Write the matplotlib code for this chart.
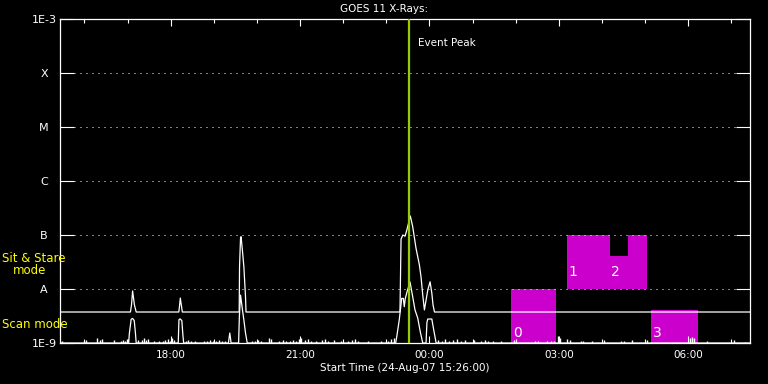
from datetime import datetime, timedelta

import matplotlib
matplotlib.use("Agg")
from matplotlib import pyplot as plt
import matplotlib.dates as mdates
from matplotlib.patches import Rectangle
from matplotlib.ticker import NullLocator

START = datetime(2007, 8, 24, 15, 26)
SPAN_MINUTES = 960

# GOES long channel, minutes after start and flux (W/m^2)
long_minutes = [0, 98, 99.5, 101, 103.5, 106,
                165.3, 166.4, 167.4, 168.8, 170.2,
                249.3, 249.8, 251.2, 251.9, 253.5, 255.8, 258.1, 258.8,
                473, 474.5, 477, 480, 482.3, 487.4, 490.7, 495.3, 500, 502.3,
                504.7, 507, 511.7, 514.9, 517.3, 519, 521, 960]
long_flux = [3.75e-9, 3.75e-9, 5.1e-9, 9.2e-9, 5.1e-9, 3.75e-9,
             3.75e-9, 5.0e-9, 6.8e-9, 5.0e-9, 3.75e-9,
             3.75e-9, 2.6e-8, 9.0e-8, 9.3e-8, 5.7e-8, 2.6e-8, 7.2e-9, 3.75e-9,
             3.75e-9, 8.4e-8, 1.0e-7, 9.5e-8, 1.2e-7, 2.25e-7, 1.43e-7, 5.7e-8, 2.8e-8, 1.67e-8,
             7.7e-9, 4.1e-9, 9.6e-9, 1.36e-8, 8.4e-9, 5.06e-9, 3.75e-9, 3.75e-9]

# GOES short channel
short_minutes = [0, 95.5, 96.5, 99, 101, 103.3, 105, 106,
                 164.5, 165.5, 167, 169.5, 171, 172,
                 234.4, 235.1, 236.2, 237.3, 238,
                 248.5, 249.5, 251.2, 253.5, 255.8, 258.1, 260.5,
                 467, 468.5, 472, 475.4, 477.6, 479, 480.4, 483, 487, 490.7, 493.9,
                 497.7, 501.3, 504.7, 509.3, 510.5, 511.7, 517.3, 520, 523.3, 960]
short_flux = [1e-9, 1e-9, 1.5e-9, 2.75e-9, 2.85e-9, 2.6e-9, 1.5e-9, 1e-9,
              1e-9, 2.7e-9, 2.8e-9, 2.6e-9, 1.4e-9, 1e-9,
              1e-9, 1.2e-9, 1.53e-9, 1.2e-9, 1e-9,
              1e-9, 3e-9, 7.7e-9, 4.45e-9, 2.67e-9, 1.53e-9, 1e-9,
              1e-9, 1.3e-9, 2.67e-9, 6.7e-9, 6.7e-9, 4.7e-9, 6.7e-9, 9e-9, 1.35e-8, 7.2e-9, 4.1e-9,
              2.9e-9, 1.6e-9, 1e-9, 1e-9, 2.4e-9, 2.78e-9, 2.78e-9, 1.74e-9, 1e-9, 1e-9]

# small background blips of the short channel
noise_minutes = [2.4, 33.5, 35.6, 50.9, 55.8, 57.9, 75.3, 85.1, 87.9, 90.7, 93.5,
                 107.9, 114.4, 117.2, 120, 122.1, 131.2, 138.1, 143.7, 146.5, 150.7,
                 153.5, 156.3, 159.1, 175.8, 178.6, 182.8, 188.4, 200.9, 205.1, 209.3,
                 213.5, 217.7, 221.9, 226, 230.2, 266.5, 270.7, 274.9, 279.1, 290.2,
                 293, 304.2, 309.8, 313.9, 319.5, 323.7, 327.9, 332.1, 334.9, 340.5,
                 344.6, 348.8, 355.8, 364.2, 368.4, 372.5, 380.9, 390.7, 400.5, 406,
                 410.2, 414.4, 428.4, 446.5, 456.3, 460.5, 464.6, 526, 531.6, 535.8,
                 541.4, 547, 552.6, 558.1, 563.7, 576.3, 586, 591.6, 595.8, 602.8,
                 613.9, 632.1, 661.4, 665.6, 678.1, 683.7, 687.9, 693.5, 696.3, 706,
                 710.2, 724.2, 728.3, 739.5, 756.3, 780, 784.2, 795.3, 816.3, 876.3,
                 879, 881.8, 900, 937.6, 953]
noise_flux = [1.09e-9, 1.09e-9, 1.14e-9, 1.24e-9, 1.14e-9, 1.19e-9, 1.14e-9, 1.09e-9, 1.14e-9, 1.09e-9, 1.19e-9,
              1.14e-9, 1.14e-9, 1.24e-9, 1.14e-9, 1.19e-9, 1.09e-9, 1.09e-9, 1.09e-9, 1.14e-9, 1.19e-9,
              1.09e-9, 1.24e-9, 1.14e-9, 1.09e-9, 1.14e-9, 1.09e-9, 1.09e-9, 1.09e-9, 1.09e-9, 1.14e-9,
              1.09e-9, 1.09e-9, 1.14e-9, 1.09e-9, 1.09e-9, 1.09e-9, 1.09e-9, 1.14e-9, 1.09e-9, 1.24e-9,
              1.19e-9, 1.09e-9, 1.14e-9, 1.09e-9, 1.09e-9, 1.14e-9, 1.09e-9, 1.19e-9, 1.24e-9, 1.14e-9,
              1.19e-9, 1.09e-9, 1.09e-9, 1.14e-9, 1.19e-9, 1.09e-9, 1.14e-9, 1.09e-9, 1.09e-9, 1.14e-9,
              1.19e-9, 1.09e-9, 1.09e-9, 1.09e-9, 1.09e-9, 1.19e-9, 1.24e-9, 1.14e-9, 1.09e-9, 1.19e-9,
              1.09e-9, 1.14e-9, 1.19e-9, 1.09e-9, 1.14e-9, 1.14e-9, 1.09e-9, 1.14e-9, 1.09e-9, 1.09e-9,
              1.09e-9, 1.14e-9, 1.09e-9, 1.09e-9, 1.09e-9, 1.09e-9, 1.09e-9, 1.35e-9, 1.24e-9, 1.19e-9,
              1.14e-9, 1.09e-9, 1.09e-9, 1.09e-9, 1.14e-9, 1.09e-9, 1.09e-9, 1.14e-9, 1.14e-9, 1.24e-9,
              1.29e-9, 1.24e-9, 1.09e-9, 1.14e-9, 1.04e-9]

level_names = ["1E-9", "A", "B", "C", "M", "X", "1E-3"]
level_flux = [1e-9, 1e-8, 1e-7, 1e-6, 1e-5, 1e-4, 1e-3]

peak_minute = 485.6

raster_start = [627.9, 704.7, 764.7, 789.8, 822.3]
raster_end = [690.7, 764.7, 817.3, 817.3, 887.3]
raster_low = [1e-9, 1e-8, 1e-8, 4.14e-8, 1e-9]
raster_high = [1e-8, 1e-7, 4.14e-8, 1e-7, 4.08e-9]
raster_labels = ["0", "1", "2", "", "3"]


def to_time(minutes):
    return [START + timedelta(minutes=m) for m in minutes]


W, H = 768, 384
plt.rcParams["font.family"] = ["DejaVu Sans"]
fig = plt.figure(figsize=(W / 100, H / 100), dpi=100, facecolor="black")
ax = fig.add_axes([60 / W, 41 / H, 690 / W, 324 / H], facecolor="black")

ax.set_yscale("log")
ax.set_ylim(1e-9, 1e-3)
ax.set_xlim(START, START + timedelta(minutes=SPAN_MINUTES))

for s, e, lo, hi, lab in zip(raster_start, raster_end, raster_low, raster_high, raster_labels):
    t0, t1 = to_time([s, e])
    x0, x1 = mdates.date2num(t0), mdates.date2num(t1)
    ax.add_patch(Rectangle((x0, lo), x1 - x0, hi - lo, facecolor="#cc00cc", edgecolor="none", zorder=1))
    if lab:
        ax.annotate(lab, xy=(x0, lo), xytext=(1.5, 3 if lo < 5e-9 else 10),
                    textcoords="offset pixels", color="white", fontsize=10,
                    ha="left", va="bottom", zorder=3)

for f in level_flux[1:-1]:
    ax.axhline(f, xmin=14 / 690, xmax=1 - 14 / 690, color="white", lw=0.72,
               dashes=(1, 5), zorder=2)

ax.plot(to_time(long_minutes), long_flux, color="white", lw=0.9, zorder=4)
ax.plot(to_time(short_minutes), short_flux, color="white", lw=0.9, zorder=4)
ax.vlines(to_time(noise_minutes), 1e-9, noise_flux, color="white", lw=1.0, zorder=4)

peak_time = START + timedelta(minutes=peak_minute)
ax.axvline(peak_time, color="#99cc00", lw=1.6, zorder=5)
ax.annotate("Event Peak", xy=(peak_time, 1), xycoords=("data", "axes fraction"),
            xytext=(9, -24), textcoords="offset pixels", color="white",
            fontsize=7.5, ha="left", va="center")

ax.set_yticks(level_flux)
ax.set_yticklabels(level_names)
ax.yaxis.set_minor_locator(NullLocator())
ax.tick_params(axis="y", which="major", direction="in", length=10, width=0.8,
               colors="white", left=True, right=True, pad=11.5, labelsize=8)
for lab in ax.get_yticklabels():
    lab.set_horizontalalignment("center")

ax.xaxis.set_major_locator(mdates.HourLocator(byhour=range(0, 24, 3)))
ax.xaxis.set_minor_locator(mdates.HourLocator())
ax.xaxis.set_major_formatter(mdates.DateFormatter("%H:%M"))
ax.tick_params(axis="x", which="major", direction="in", length=4.7, width=0.8,
               colors="white", top=True, bottom=True, pad=5, labelsize=7.5)
ax.tick_params(axis="x", which="minor", direction="in", length=2.7, width=0.8,
               colors="white", top=True, bottom=True)

for sp in ax.spines.values():
    sp.set_color("white")
    sp.set_linewidth(0.9)

ax.set_xlabel("Start Time (24-Aug-07 15:26:00)", color="white", fontsize=7.5, labelpad=2)
fig.text(384 / W, 1 - 9 / H, "GOES 11 X-Rays:", color="white", fontsize=7.5, ha="center", va="center")

fig.text(2 / W, 1 - 259 / H, "Sit & Stare", color="yellow", fontsize=8.5, va="center", ha="left")
fig.text(13 / W, 1 - 271 / H, "mode", color="yellow", fontsize=8.5, va="center", ha="left")
fig.text(2 / W, 1 - 324 / H, "Scan mode", color="yellow", fontsize=8.5, va="center", ha="left")

fig.savefig("out.png", dpi=100, facecolor="black")
